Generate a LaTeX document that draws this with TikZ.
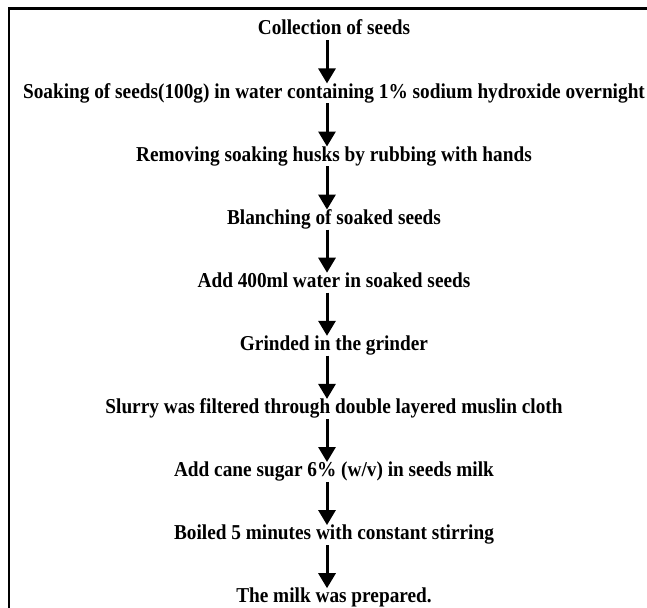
\documentclass[tikz,border=0pt]{standalone}
\usepackage{fontspec}
\setmainfont{Liberation Serif}[FakeStretch=0.91]
\usetikzlibrary{arrows.meta,positioning}

\begin{document}
\begin{tikzpicture}[x=1pt,y=-1pt,font=\fontsize{21.2}{24}\selectfont\bfseries,
  >={Triangle[width=17pt,length=15pt]},
  stagetext/.style={inner sep=0.5pt,text height=14pt,text depth=4.5pt},
  flowarrow/.style={->,line width=3pt},
  node distance=43.2pt]
  \useasboundingbox (0,0) rectangle (647,607);
  % frame, cut off at the right and bottom
  \begin{scope}
    \clip (0,0) rectangle (647,607);
    \draw[line width=2.4pt] (9,8.5) rectangle (670,630);
  \end{scope}
  % stages
  \node[stagetext,anchor=base] (collect) at (334,35) {Collection of seeds};
  \node[stagetext,below=of collect] (soak) {Soaking of seeds(100g) in water containing 1\% sodium hydroxide overnight};
  \node[stagetext,below=of soak] (husk) {Removing soaking husks by rubbing with hands};
  \node[stagetext,below=of husk] (blanch) {Blanching of soaked seeds};
  \node[stagetext,below=of blanch] (water) {Add 400ml water in soaked seeds};
  \node[stagetext,below=of water] (grind) {Grinded in the grinder};
  \node[stagetext,below=of grind] (filter) {Slurry was filtered through double layered muslin cloth};
  \node[stagetext,below=of filter] (sugar) {Add cane sugar 6\% (w/v) in seeds milk};
  \node[stagetext,below=of sugar] (boil) {Boiled 5 minutes with constant stirring};
  \node[stagetext,below=of boil] (milk) {The milk was prepared.};
  % arrows
  \draw[flowarrow] ([xshift=-7pt]collect.south) -- ([xshift=-7pt]soak.north);
  \draw[flowarrow] ([xshift=-7pt]soak.south) -- ([xshift=-7pt]husk.north);
  \draw[flowarrow] ([xshift=-7pt]husk.south) -- ([xshift=-7pt]blanch.north);
  \draw[flowarrow] ([xshift=-7pt]blanch.south) -- ([xshift=-7pt]water.north);
  \draw[flowarrow] ([xshift=-7pt]water.south) -- ([xshift=-7pt]grind.north);
  \draw[flowarrow] ([xshift=-7pt]grind.south) -- ([xshift=-7pt]filter.north);
  \draw[flowarrow] ([xshift=-7pt]filter.south) -- ([xshift=-7pt]sugar.north);
  \draw[flowarrow] ([xshift=-7pt]sugar.south) -- ([xshift=-7pt]boil.north);
  \draw[flowarrow] ([xshift=-7pt]boil.south) -- ([xshift=-7pt]milk.north);
\end{tikzpicture}
\end{document}
